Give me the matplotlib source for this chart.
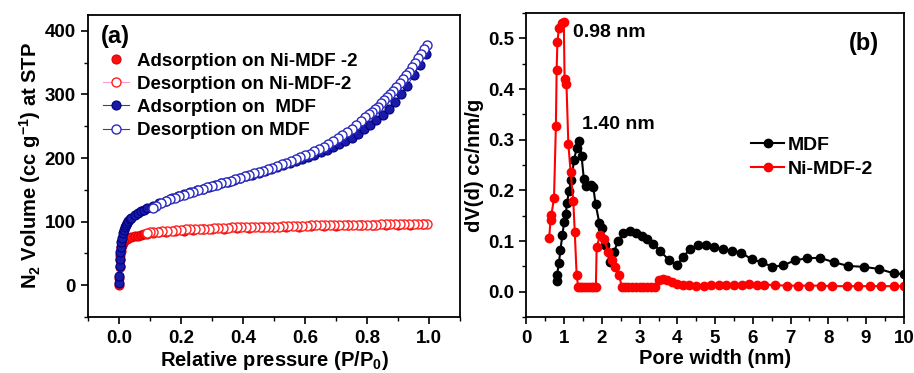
import matplotlib
matplotlib.use("Agg")
import matplotlib.pyplot as plt
from matplotlib.ticker import MultipleLocator

plt.rcParams['font.family'] = ['Liberation Sans', 'DejaVu Sans']
plt.rcParams['font.weight'] = 'bold'
plt.rcParams['mathtext.fontset'] = 'custom'
plt.rcParams['mathtext.rm'] = 'Liberation Sans:bold'
plt.rcParams['mathtext.bf'] = 'Liberation Sans:bold'
plt.rcParams['mathtext.default'] = 'bf'

# (a) N2 isotherms
mdf_ads_p = [0.0005, 0.001, 0.002, 0.003, 0.004, 0.005, 0.007, 0.009, 0.012, 0.015, 0.018, 0.022,
             0.026, 0.03, 0.035, 0.04, 0.05, 0.06, 0.07, 0.08, 0.09, 0.11, 0.13, 0.15, 0.17, 0.19,
             0.21, 0.23, 0.25, 0.27, 0.29, 0.31, 0.33, 0.35, 0.37, 0.39, 0.41, 0.43, 0.45, 0.47,
             0.49, 0.51, 0.53, 0.55, 0.57, 0.59, 0.61, 0.63, 0.65, 0.67, 0.69, 0.71, 0.73, 0.75,
             0.77, 0.79, 0.81, 0.83, 0.85, 0.87, 0.89, 0.91, 0.93, 0.95, 0.97, 0.99]
mdf_ads_v = [3, 15, 30, 42, 52, 60, 68, 75, 82, 87, 91, 95,
             98, 101, 104, 106, 110, 113, 116, 118, 121, 125, 129, 133, 137, 140,
             143, 146, 149, 152, 155, 157, 160, 163, 166, 168, 171, 174, 177, 180,
             183, 186, 189, 192, 195, 198, 202, 205, 209, 213, 217, 222, 227, 232,
             238, 245, 252, 260, 268, 277, 288, 300, 314, 330, 347, 364]

mdf_des_p = [0.995, 0.985, 0.975, 0.965, 0.955, 0.945, 0.935, 0.925, 0.915, 0.905, 0.895, 0.885,
             0.875, 0.865, 0.855, 0.845, 0.835, 0.825, 0.815, 0.805, 0.795, 0.78, 0.765, 0.75,
             0.735, 0.72, 0.705, 0.69, 0.675, 0.66, 0.645, 0.63, 0.615, 0.6, 0.585, 0.57, 0.555,
             0.54, 0.525, 0.51, 0.495, 0.48, 0.465, 0.45, 0.435, 0.42, 0.405, 0.39, 0.375, 0.36,
             0.345, 0.33, 0.315, 0.3, 0.285, 0.27, 0.255, 0.24, 0.225, 0.21, 0.195, 0.18, 0.165,
             0.15, 0.135, 0.12, 0.11]
mdf_des_v = [377, 371, 364, 357, 350, 343, 336, 330, 324, 318, 312, 306,
             301, 296, 291, 286, 281, 277, 273, 269, 265, 258, 252, 246,
             241, 236, 231, 227, 222, 218, 214, 211, 207, 204, 201, 198, 195,
             192, 190, 187, 185, 183, 180, 178, 176, 173, 171, 169, 167, 164,
             162, 160, 158, 156, 154, 151, 149, 147, 145, 142, 140, 137, 135,
             132, 129, 125, 122]

ni_ads_p = [0.0005, 0.001, 0.002, 0.003, 0.004, 0.005, 0.007, 0.009, 0.012, 0.016, 0.02, 0.025,
            0.03, 0.04, 0.05, 0.06, 0.07, 0.08, 0.09, 0.11, 0.13, 0.15, 0.18, 0.21, 0.24, 0.27,
            0.3, 0.34, 0.38, 0.42, 0.46, 0.5, 0.54, 0.58, 0.62, 0.66, 0.7, 0.74, 0.78, 0.82,
            0.86, 0.9, 0.94, 0.98]
ni_ads_v = [1, 12, 28, 40, 48, 54, 60, 64, 67, 70, 72, 73,
            74, 76, 77, 78, 79, 80, 81, 82, 83, 84, 85, 86, 87, 88,
            88, 89, 90, 90, 91, 91, 92, 92, 93, 93, 93, 94, 94, 94,
            95, 95, 95, 96]

ni_des_p = [0.995, 0.98, 0.965, 0.95, 0.935, 0.92, 0.905, 0.89, 0.875, 0.86, 0.845, 0.83, 0.815,
            0.8, 0.785, 0.77, 0.755, 0.74, 0.725, 0.71, 0.695, 0.68, 0.665, 0.65, 0.635, 0.62,
            0.605, 0.59, 0.575, 0.56, 0.545, 0.53, 0.515, 0.5, 0.485, 0.47, 0.455, 0.44, 0.425,
            0.41, 0.395, 0.38, 0.365, 0.35, 0.335, 0.32, 0.305, 0.29, 0.275, 0.26, 0.245, 0.23,
            0.215, 0.2, 0.185, 0.17, 0.155, 0.14, 0.125, 0.11, 0.1, 0.09]
ni_des_v = [97, 97, 97, 97, 97, 96, 96, 96, 96, 96, 96, 95, 95,
            95, 95, 95, 95, 95, 95, 94, 94, 94, 94, 94, 94, 94,
            93, 93, 93, 93, 93, 93, 92, 92, 92, 92, 92, 92, 91,
            91, 91, 91, 91, 90, 90, 90, 90, 89, 89, 89, 88, 88,
            88, 87, 87, 86, 86, 85, 84, 84, 83, 82]

# (b) pore size distribution
mdf_w = [0.80, 0.81, 0.86, 0.90, 0.95, 1.00, 1.04, 1.08, 1.12, 1.19, 1.26, 1.33, 1.40, 1.46,
         1.52, 1.59, 1.70, 1.77, 1.83, 1.93, 1.99, 2.08, 2.21, 2.32, 2.43, 2.57, 2.74, 2.90,
         3.05, 3.19, 3.36, 3.54, 3.79, 3.98, 4.16, 4.34, 4.54, 4.75, 4.96, 5.22, 5.44, 5.69,
         5.97, 6.24, 6.52, 6.80, 7.12, 7.43, 7.77, 8.16, 8.52, 8.94, 9.34, 9.75, 10.0]
mdf_dv = [0.021, 0.033, 0.057, 0.082, 0.111, 0.138, 0.154, 0.176, 0.198, 0.220, 0.260, 0.283, 0.298, 0.268,
          0.223, 0.208, 0.210, 0.207, 0.174, 0.136, 0.125, 0.093, 0.059, 0.079, 0.100, 0.115, 0.119, 0.115,
          0.110, 0.105, 0.095, 0.080, 0.062, 0.052, 0.069, 0.085, 0.092, 0.093, 0.088, 0.084, 0.081, 0.077,
          0.064, 0.058, 0.049, 0.052, 0.062, 0.066, 0.067, 0.058, 0.051, 0.049, 0.045, 0.036, 0.035]

ni_w = [0.60, 0.64, 0.66, 0.73, 0.78, 0.80, 0.82, 0.86, 0.93, 0.99, 1.01, 1.06, 1.11, 1.17,
        1.24, 1.28, 1.33, 1.37, 1.42, 1.48, 1.55, 1.62, 1.70, 1.77, 1.84, 1.86, 1.95, 2.05,
        2.17, 2.26, 2.35, 2.46, 2.52, 2.60, 2.70, 2.80, 2.90, 3.00, 3.10, 3.20, 3.30, 3.40,
        3.52, 3.61, 3.72, 3.85, 3.98, 4.15, 4.30, 4.50, 4.70, 4.90, 5.10, 5.30, 5.50, 5.70,
        5.90, 6.10, 6.30, 6.60, 6.90, 7.20, 7.50, 7.80, 8.10, 8.50, 8.80, 9.10, 9.40, 9.75, 10.0]
ni_dv = [0.106, 0.141, 0.151, 0.185, 0.328, 0.438, 0.492, 0.521, 0.531, 0.532, 0.420, 0.410, 0.292, 0.236,
         0.180, 0.118, 0.033, 0.010, 0.010, 0.010, 0.010, 0.010, 0.010, 0.010, 0.010, 0.088, 0.111, 0.104,
         0.079, 0.062, 0.049, 0.033, 0.010, 0.010, 0.010, 0.010, 0.010, 0.010, 0.010, 0.010, 0.010, 0.010,
         0.023, 0.026, 0.023, 0.020, 0.016, 0.014, 0.013, 0.012, 0.012, 0.013, 0.013, 0.013, 0.014, 0.014,
         0.015, 0.014, 0.014, 0.013, 0.012, 0.012, 0.012, 0.012, 0.011, 0.011, 0.011, 0.011, 0.011, 0.011, 0.011]

fig = plt.figure(figsize=(9.14, 3.73), dpi=100)
ax1 = fig.add_axes([0.0963, 0.150, 0.407, 0.810])
ax2 = fig.add_axes([0.576, 0.150, 0.4128, 0.815])

ms = 6.5
ax1.plot(ni_ads_p, ni_ads_v, ls='none', marker='o', ms=ms, mfc='#ff1010', mec='#e00000', mew=0.8,
         label='Adsorption on Ni-MDF -2')
ax1.plot(ni_des_p, ni_des_v, ls='-', lw=0.8, color='#ff9ad0', marker='o', ms=ms, mfc='white',
         mec='#ff2020', mew=1.0, label='Desorption on Ni-MDF-2')
ax1.plot(mdf_ads_p, mdf_ads_v, ls='-', lw=0.8, color='#3a3ab0', marker='o', ms=ms, mfc='#1a1aa8',
         mec='#000080', mew=0.8, label='Adsorption on  MDF')
ax1.plot(mdf_des_p, mdf_des_v, ls='-', lw=0.8, color='#3a3ab0', marker='o', ms=ms, mfc='white',
         mec='#2a2ac0', mew=1.0, label='Desorption on MDF')

ax1.set_xlim(-0.1, 1.1)
ax1.set_ylim(-50, 425)
ax1.xaxis.set_major_locator(MultipleLocator(0.2))
ax1.xaxis.set_minor_locator(MultipleLocator(0.1))
ax1.yaxis.set_major_locator(MultipleLocator(100))
ax1.yaxis.set_minor_locator(MultipleLocator(50))
ax1.set_xticks([0.0, 0.2, 0.4, 0.6, 0.8, 1.0])
ax1.set_xticklabels(['0.0', '0.2', '0.4', '0.6', '0.8', '1.0'])
ax1.set_xlabel('Relative pressure (P/P$_0$)', fontsize=14.5, fontweight='bold', labelpad=2)
ax1.set_ylabel('N$_2$ Volume (cc g$^{-1}$) at STP', fontsize=14.5, fontweight='bold', labelpad=1)
ax1.text(0.035, 0.965, '(a)', transform=ax1.transAxes, fontsize=17, fontweight='bold', va='top')
ax1.legend(loc='upper left', bbox_to_anchor=(0.02, 0.9), frameon=False, fontsize=13.5,
           handlelength=1.4, handletextpad=0.4, labelspacing=0.32, borderaxespad=0)

ax2.plot(mdf_w, mdf_dv, '-', color='black', lw=1.5, marker='o', ms=6, label='MDF')
ax2.plot(ni_w, ni_dv, '-', color='#ff0000', lw=1.5, marker='o', ms=6, label='Ni-MDF-2')
ax2.set_xlim(0, 10)
ax2.set_ylim(-0.05, 0.55)
ax2.xaxis.set_major_locator(MultipleLocator(1))
ax2.xaxis.set_minor_locator(MultipleLocator(0.5))
ax2.yaxis.set_major_locator(MultipleLocator(0.1))
ax2.yaxis.set_minor_locator(MultipleLocator(0.05))
ax2.set_xlabel('Pore width (nm)', fontsize=14.5, fontweight='bold', labelpad=2)
ax2.set_ylabel('dV(d) cc/nm/g', fontsize=14.5, fontweight='bold', labelpad=3)
ax2.text(1.23, 0.512, '0.98 nm', fontsize=14, fontweight='bold', va='center')
ax2.text(1.46, 0.331, '1.40 nm', fontsize=14, fontweight='bold', va='center')
ax2.text(0.935, 0.9, '(b)', transform=ax2.transAxes, fontsize=17, fontweight='bold', va='center', ha='right')
ax2.legend(loc='upper left', bbox_to_anchor=(0.575, 0.62), frameon=False, fontsize=14,
           handlelength=1.7, handletextpad=0.2, labelspacing=0.32, borderaxespad=0)

for ax in (ax1, ax2):
    ax.tick_params(which='major', direction='out', length=5, width=1.2, labelsize=13.5, pad=4)
    ax.tick_params(which='minor', direction='out', length=3, width=1.0)
    for lab in ax.get_xticklabels() + ax.get_yticklabels():
        lab.set_fontweight('bold')
    for s in ax.spines.values():
        s.set_linewidth(1.3)

fig.savefig('out.png', dpi=100)
